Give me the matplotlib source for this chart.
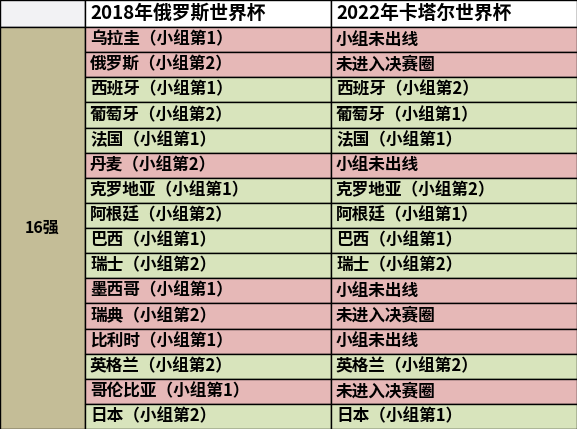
import matplotlib.pyplot as plt
from matplotlib.patches import Rectangle

plt.rcParams['font.family'] = ['Noto Sans CJK SC', 'DejaVu Sans']

headers = ["2018年俄罗斯世界杯", "2022年卡塔尔世界杯"]
group_label = "16强"
teams_2018 = ["乌拉圭（小组第1）", "俄罗斯（小组第2）", "西班牙（小组第1）", "葡萄牙（小组第2）",
              "法国（小组第1）", "丹麦（小组第2）", "克罗地亚（小组第1）", "阿根廷（小组第2）",
              "巴西（小组第1）", "瑞士（小组第2）", "墨西哥（小组第1）", "瑞典（小组第2）",
              "比利时（小组第1）", "英格兰（小组第2）", "哥伦比亚（小组第1）", "日本（小组第2）"]
results_2022 = ["小组未出线", "未进入决赛圈", "西班牙（小组第2）", "葡萄牙（小组第1）",
                "法国（小组第1）", "小组未出线", "克罗地亚（小组第2）", "阿根廷（小组第1）",
                "巴西（小组第1）", "瑞士（小组第2）", "小组未出线", "未进入决赛圈",
                "小组未出线", "英格兰（小组第2）", "未进入决赛圈", "日本（小组第1）"]
advanced = [False, False, True, True, True, False, True, True,
            True, True, False, False, False, True, False, True]

W, H = 577, 429
head_h = 27
col_x = [0, 85, 331, 577]
row_h = (H - head_h) / len(teams_2018)
PINK, GREEN = "#e6b8b7", "#d8e4bc"

fig = plt.figure(figsize=(W / 100, H / 100), dpi=100)
ax = fig.add_axes([0, 0, 1, 1])
ax.set_xlim(0, W)
ax.set_ylim(H, 0)
ax.axis("off")

def cell(x0, x1, y0, y1, color):
    ax.add_patch(Rectangle((x0, y0), x1 - x0, y1 - y0, facecolor=color,
                           edgecolor="black", linewidth=1))

cell(col_x[0], col_x[1], 0, head_h, "#f2f2f4")
for i, h in enumerate(headers):
    cell(col_x[i + 1], col_x[i + 2], 0, head_h, "white")
    ax.text(col_x[i + 1] + 5, head_h / 2, h, fontsize=13.5, fontweight="bold",
            va="center", ha="left")

cell(col_x[0], col_x[1], head_h, H, "#c4bd97")
ax.text((col_x[0] + col_x[1]) / 2, (head_h + H) / 2, group_label, fontsize=11.5,
        fontweight="bold", ha="center", va="center")

for i, (a, b, ok) in enumerate(zip(teams_2018, results_2022, advanced)):
    y0 = head_h + i * row_h
    c = GREEN if ok else PINK
    for j, t in enumerate((a, b)):
        cell(col_x[j + 1], col_x[j + 2], y0, y0 + row_h, c)
        ax.text(col_x[j + 1] + 5, y0 + row_h / 2, t, fontsize=12, fontweight="bold",
                va="center", ha="left")

fig.savefig("out.png", dpi=100)
